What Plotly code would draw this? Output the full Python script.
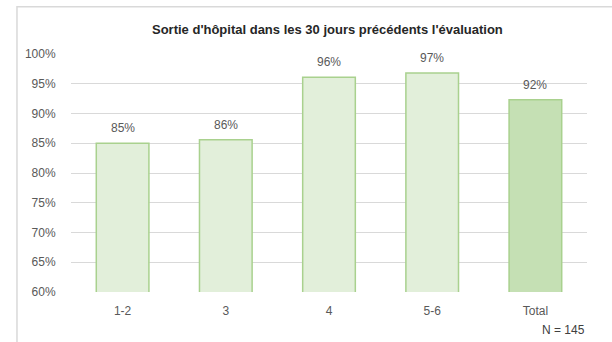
import plotly.graph_objects as go

# Share of patients discharged from hospital within 30 days before the assessment
categories = ["1-2", "3", "4", "5-6", "Total"]
shares = [85.0, 85.6, 96.1, 96.8, 92.3]
y_ticks = [60, 65, 70, 75, 80, 85, 90, 95, 100]
y_tick_labels = [f"{t}%" for t in y_ticks]
title_text = "Sortie d'hôpital dans les 30 jours précédents l'évaluation"
note_text = "N = 145"

FONT = "Liberation Sans"
GREY_TEXT = "#595959"
GRID = "#d9d9d9"

fill_colors = ["#e2efda"] * 4 + ["#c5e0b4"]
line_color = "#a9d18e"

fig = go.Figure()
fig.add_trace(go.Bar(
    x=categories,
    y=shares,
    marker=dict(color=fill_colors, line=dict(color=line_color, width=1.5)),
    hoverinfo="skip",
))

# value labels above each bar (x given as category index)
for i, v in enumerate(shares):
    fig.add_annotation(
        x=i, y=v, text=f"{round(v)}%", showarrow=False,
        yanchor="middle", yshift=15,
        font=dict(family=FONT, size=12, color=GREY_TEXT),
    )

# chart title
fig.add_annotation(
    x=0.497, y=1.102, xref="paper", yref="paper",
    text=f"<b>{title_text}</b>", showarrow=False,
    xanchor="center", yanchor="middle",
    font=dict(family=FONT, size=13, color="#262626"),
)

# sample size note
fig.add_annotation(
    x=1.0, y=-0.16, xref="paper", yref="paper",
    text=note_text, showarrow=False,
    xanchor="right", yanchor="middle",
    font=dict(family=FONT, size=12, color="#404040"),
)

# chart frame
fig.add_shape(
    type="rect", xref="paper", yref="paper",
    x0=-0.1047, x1=1.06, y0=-0.3, y1=1.199,
    line=dict(color=GRID, width=1.5), fillcolor="rgba(0,0,0,0)", layer="below",
)

fig.update_layout(
    width=612, height=342,
    margin=dict(l=71, r=25, t=54, b=50),
    paper_bgcolor="white", plot_bgcolor="white",
    bargap=0.49,
    showlegend=False,
    font=dict(family=FONT, size=12, color=GREY_TEXT),
)
fig.update_xaxes(
    type="category",
    showgrid=False, showline=False, zeroline=False,
    ticks="outside", ticklen=8, tickcolor="rgba(0,0,0,0)",
    tickfont=dict(family=FONT, size=12, color=GREY_TEXT),
)
fig.update_yaxes(
    range=[60, 100], tickvals=y_ticks, ticktext=y_tick_labels,
    showgrid=True, gridcolor=GRID, gridwidth=1,
    zeroline=False, showline=False,
    ticks="outside", ticklen=12, tickcolor="rgba(0,0,0,0)",
    tickfont=dict(family=FONT, size=12, color=GREY_TEXT),
)

fig.write_html("out.html")
